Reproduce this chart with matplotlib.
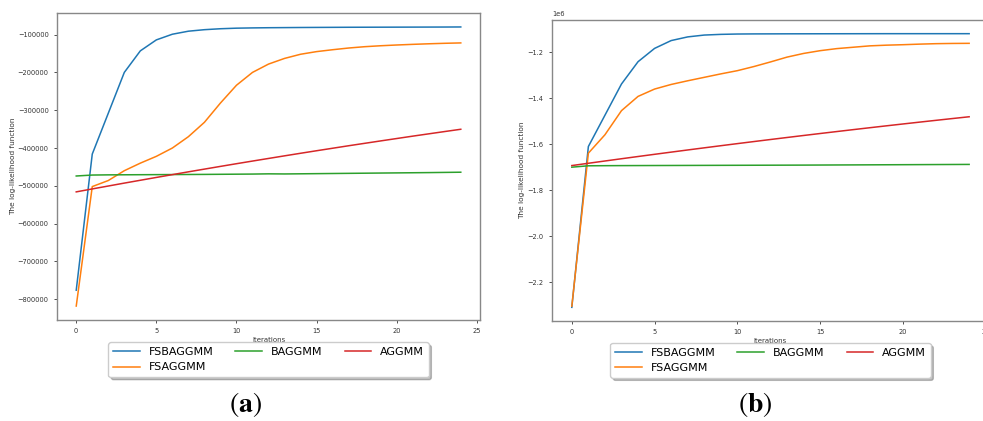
import matplotlib
matplotlib.use('Agg')
import matplotlib.pyplot as plt
import numpy as np

# Daten (a)
iterations = list(range(25))
fsbaggmm_a = [-776000, -416000, -308000, -200000, -143000, -114000, -99000, -91000, -87000, -84500,
              -83000, -82300, -81800, -81500, -81200, -81000, -80800, -80600, -80500, -80400,
              -80300, -80200, -80100, -80000, -79800]
fsaggmm_a = [-818000, -502000, -486000, -460000, -440000, -422000, -400000, -370000, -332000, -281000,
             -234000, -200000, -178000, -163000, -152000, -145000, -140000, -135500, -132000, -129500,
             -127500, -125800, -124300, -123000, -122000]
baggmm_a = [-474000, -471500, -471000, -470800, -470600, -470400, -470200, -470000, -469800, -469500,
            -469200, -468900, -468300, -468600, -468200, -467800, -467400, -467000, -466600, -466200,
            -465800, -465400, -465000, -464500, -464000]
aggmm_a = [-516000, -508200, -500500, -492800, -485300, -477800, -470400, -463000, -455800, -448600,
           -441500, -434500, -427600, -420700, -413900, -407200, -400600, -394000, -387600, -381200,
           -374900, -368600, -362500, -356400, -350400]

# Daten (b)
fsbaggmm_b = [-2310000, -1610000, -1474000, -1338000, -1241000, -1183000, -1149000, -1133000, -1125000, -1122000,
              -1120500, -1120000, -1119800, -1119600, -1119500, -1119400, -1119300, -1119200, -1119100, -1119000,
              -1119000, -1119000, -1119000, -1119000, -1119000]
fsaggmm_b = [-2305000, -1639000, -1559000, -1454000, -1392000, -1360000, -1340000, -1324000, -1309000, -1294000,
             -1280000, -1262000, -1242000, -1221000, -1205000, -1193000, -1184000, -1178000, -1172000, -1169000,
             -1167000, -1164500, -1162500, -1161500, -1161000]
baggmm_b = [-1700000, -1694000, -1693500, -1693200, -1693000, -1692800, -1692600, -1692400, -1692200, -1692000,
            -1691800, -1691600, -1691400, -1691200, -1691000, -1690700, -1690400, -1690100, -1689800, -1689500,
            -1689200, -1688900, -1688600, -1688300, -1688000]
aggmm_b = [-1693000, -1683000, -1673100, -1663300, -1653600, -1644000, -1634500, -1625100, -1615800, -1606600,
           -1597500, -1588500, -1579600, -1570800, -1562100, -1553500, -1545000, -1536600, -1528300, -1520100,
           -1512000, -1504000, -1496100, -1488300, -1480600]

labels = ['FSBAGGMM', 'FSAGGMM', 'BAGGMM', 'AGGMM']
colors = ['#1f77b4', '#ff7f0e', '#2ca02c', '#d62728']

plt.rcParams['mathtext.fontset'] = 'stix'

fig = plt.figure(figsize=(9.83, 4.21), dpi=100)
ax1 = fig.add_axes((0.058, 0.2399, 0.4303, 0.7292))
ax2 = fig.add_axes((0.5615, 0.2375, 0.4446, 0.715))

panels = [(ax1, [fsbaggmm_a, fsaggmm_a, baggmm_a, aggmm_a]),
          (ax2, [fsbaggmm_b, fsaggmm_b, baggmm_b, aggmm_b])]

for ax, series in panels:
    lines = []
    for ys, lab, c in zip(series, labels, colors):
        ln, = ax.plot(iterations, ys, color=c, lw=1.1, label=lab)
        lines.append(ln)
    ax.set_xticks([0, 5, 10, 15, 20, 25])
    ax.tick_params(labelsize=4.8, colors='#333333', length=2.5, width=0.6)
    ax.yaxis.get_offset_text().set_fontsize(4.8)
    ax.yaxis.get_offset_text().set_color('#333333')
    for s in ax.spines.values():
        s.set_color('#888888')
        s.set_linewidth(1.0)
    ax.set_xlabel('Iterations', fontsize=5, color='#333333', labelpad=2)
    ax.set_ylabel('The log-likelihood function', fontsize=5.3, color='#333333', labelpad=1.5)
    # Legende: Spalten werden von oben nach unten gefuellt
    ax.legend(lines, labels, ncol=3, loc='upper center',
              bbox_to_anchor=(0.5, -0.055), fontsize=8, shadow={'alpha': 0.35}, framealpha=1,
              handlelength=2.4)

fig.text(0.250, 0.005, r'$(\mathbf{a})$', ha='center', va='bottom', fontsize=20)
fig.text(0.768, 0.005, r'$(\mathbf{b})$', ha='center', va='bottom', fontsize=20)

fig.savefig('out.png', dpi=100)
